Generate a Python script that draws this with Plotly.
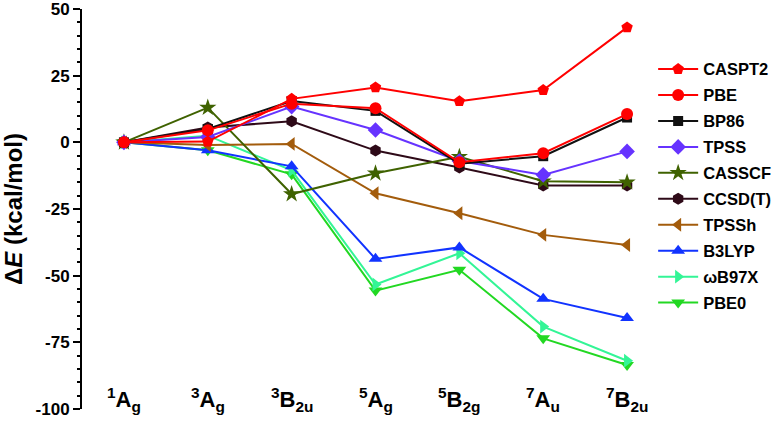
import plotly.graph_objects as go

states = ["<sup>1</sup>A<sub>g</sub>", "<sup>3</sup>A<sub>g</sub>", "<sup>3</sup>B<sub>2u</sub>",
          "<sup>5</sup>A<sub>g</sub>", "<sup>5</sup>B<sub>2g</sub>", "<sup>7</sup>A<sub>u</sub>",
          "<sup>7</sup>B<sub>2u</sub>"]
xpos = [0, 1, 2, 3, 4, 5, 6]

methods = ["CASPT2", "PBE", "BP86", "TPSS", "CASSCF", "CCSD(T)", "TPSSh", "B3LYP", "ωB97X", "PBE0"]
caspt2 = [0, 0.3, 16.3, 20.6, 15.4, 19.6, 43.1]
pbe = [0, 4.5, 14.5, 12.8, -7.5, -4.1, 10.6]
bp86 = [0, 5.0, 15.5, 11.8, -8.0, -5.2, 9.3]
tpss = [0, 2.0, 13.4, 4.6, -7.0, -12.2, -3.4]
casscf = [0, 13.0, -19.4, -11.6, -5.4, -14.6, -15.0]
ccsdt = [0, 5.6, 7.9, -3.1, -9.4, -16.2, -16.2]
tpssh = [0, -1.0, -0.6, -19.1, -26.6, -34.7, -38.5]
b3lyp = [0, -3.0, -9.0, -43.7, -39.4, -58.7, -65.9]
wb97x = [0, 2.5, -10.5, -53.3, -41.6, -69.1, -81.9]
pbe0 = [0, -3.0, -12.0, -55.6, -47.8, -73.5, -83.5]
series = [caspt2, pbe, bp86, tpss, casscf, ccsdt, tpssh, b3lyp, wb97x, pbe0]

colors = ["#FF0000", "#FF0000", "#111111", "#6633FF", "#3F6200", "#2E0A18",
          "#A35C0C", "#1133FF", "#33F596", "#22D822"]
symbols = ["pentagon", "circle", "square", "diamond", "star", "hexagon",
           "triangle-left", "triangle-up", "triangle-right", "triangle-down"]
sizes = [12, 12, 10, 12, 13, 12, 12, 12, 12, 12]

FONT = "Liberation Sans, Arial"

fig = go.Figure()
for i in reversed(range(len(methods))):
    fig.add_trace(go.Scatter(
        x=xpos, y=series[i], mode="lines+markers", name=methods[i],
        legendgroup=methods[i], legendrank=i + 1,
        line=dict(color=colors[i], width=2),
        marker=dict(symbol=symbols[i], size=sizes[i], color=colors[i],
                    line=dict(width=0)),
    ))

for xi, lab in zip(xpos, states):
    fig.add_annotation(x=xi, y=-96.5, xref="x", yref="y", text="<b>" + lab + "</b>",
                       showarrow=False, font=dict(family=FONT, size=22, color="black"))

fig.update_layout(
    width=773, height=424,
    margin=dict(l=82, r=104, t=9, b=15, autoexpand=False),
    paper_bgcolor="white", plot_bgcolor="white",
    font=dict(family=FONT, color="black"),
    showlegend=True,
    legend=dict(x=0.973, y=0.893, xanchor="left", yanchor="top",
                font=dict(size=16.5, family=FONT, color="black", weight="bold"),
                tracegroupgap=1.5, bgcolor="rgba(0,0,0,0)", itemwidth=40),
    xaxis=dict(range=[-0.5, 6.5], showline=False, showticklabels=False, showgrid=False,
               zeroline=False, ticks="", automargin=False),
    yaxis=dict(range=[-100, 50], tickvals=[-100, -75, -50, -25, 0, 25, 50],
               ticktext=["-100", "-75", "-50", "-25", "0", "25", "50"],
               ticklabeloverflow="allow", automargin=False,
               showline=True, linecolor="black", linewidth=2, ticks="outside",
               ticklen=7, tickwidth=2, tickcolor="black", showgrid=False, zeroline=False,
               tickfont=dict(size=17, family=FONT, color="black", weight="bold"),
               minor=dict(dtick=5, ticks="outside", ticklen=3, tickwidth=1.5, tickcolor="black"),
               title=dict(text="<b>Δ<i>E</i> (kcal/mol)</b>", standoff=8,
                          font=dict(size=24, family=FONT, color="black"))),
)

fig.write_html("out.html")
